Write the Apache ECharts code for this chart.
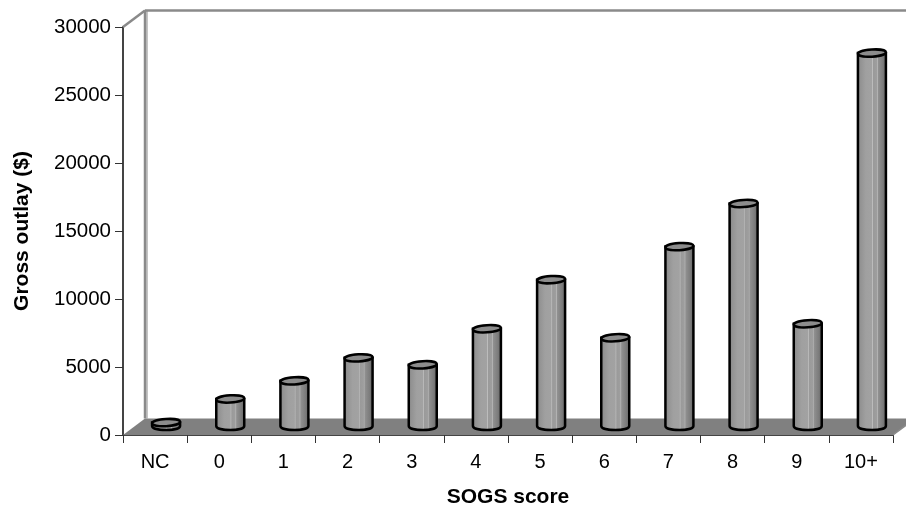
<!DOCTYPE html>
<html><head><meta charset="utf-8">
<style>html,body{margin:0;padding:0;background:#fff}#c{width:906px;height:510px}</style>
<script src="https://cdn.jsdelivr.net/npm/echarts@6/dist/echarts.min.js"></script>
</head><body><div id="c"></div>
<script>
const categories = ['NC','0','1','2','3','4','5','6','7','8','9','10+'];
const outlay = [250,1990,3320,5010,4500,7150,10760,6490,13190,16360,7520,27420];
const yTicks = {min:0,max:30000,interval:5000};

const DX = 22, DY = 16.5;
const BAR_SHIFT = 11, BASE_LIFT = 9, BAR_W = 28, RY = 3.6;

const barFill = new echarts.graphic.LinearGradient(0,0,1,0,[
  {offset:0,color:'#7a7a7a'},{offset:0.12,color:'#929292'},{offset:0.3,color:'#a0a0a0'},
  {offset:0.5,color:'#a2a2a2'},{offset:0.52,color:'#bdbdbd'},{offset:0.55,color:'#9a9a9a'},
  {offset:0.66,color:'#9e9e9e'},{offset:0.68,color:'#b5b5b5'},{offset:0.71,color:'#909090'},
  {offset:0.86,color:'#7c7c7c'},{offset:1,color:'#5c5c5c'}]);

function renderFrame(params){
  const r = params.coordSys;
  const L=r.x, T=r.y, R=r.x+r.width, B=r.y+r.height;
  const line=(x1,y1,x2,y2,w)=>({type:'line',shape:{x1,y1,x2,y2},style:{stroke:'#8a8a8a',lineWidth:w||2}});
  return {type:'group',silent:true,children:[
    {type:'polygon',shape:{points:[[L,B],[L+DX,B-DY],[R+DX,B-DY],[R,B]]},style:{fill:'#808080'}},
    line(L+DX,B-DY,L+DX,T-DY,2.5),
    line(L,T,L+DX,T-DY,2.5),
    line(L+DX,T-DY,R+DX,T-DY,2.5),
    line(L+DX+2,T-DY,L+DX+2,B-DY,1),
    line(R,B,R+DX,B-DY,1.5)
  ]};
}
function renderBar(params,api){
  const base = api.coord([api.value(0),0]);
  const top = api.coord([api.value(0),api.value(1)]);
  const cx = base[0]+BAR_SHIFT, yb = base[1]-BASE_LIFT, yt = top[1]-BASE_LIFT;
  const hw = BAR_W/2;
  const body = {type:'path',shape:{pathData:
    `M${cx-hw} ${yt} L${cx-hw} ${yb} C${cx-hw} ${yb+RY*1.5} ${cx+hw} ${yb+RY*1.5} ${cx+hw} ${yb} L${cx+hw} ${yt} Z`},
    style:{fill:barFill,stroke:'#000',lineWidth:2.5}};
  const cap = {type:'ellipse',shape:{cx,cy:yt,rx:hw,ry:RY},originX:cx,originY:yt,rotation:0.06,
    style:{fill:'#8c8c8c',stroke:'#000',lineWidth:2.5}};
  return {type:'group',children:[body,cap]};
}

const chart = echarts.init(document.getElementById('c'),null,{renderer:'canvas'});
chart.setOption({
  animation:false,
  backgroundColor:'#fff',
  textStyle:{fontFamily:'"Liberation Sans",Arial,sans-serif'},
  grid:{left:123,right:13,top:27,bottom:75,containLabel:false,outerBoundsMode:'none'},
  xAxis:{type:'category',data:categories,boundaryGap:true,
    name:'SOGS score',nameLocation:'middle',nameGap:51.5,
    nameTextStyle:{fontSize:21,fontWeight:'bold',color:'#000',fontFamily:'"Liberation Sans"'},
    axisLine:{lineStyle:{color:'#444',width:2}},
    axisTick:{show:true,length:8,alignWithLabel:false,lineStyle:{color:'#333',width:1}},
    axisLabel:{fontSize:20,color:'#000',margin:17,interval:0,fontFamily:'"Liberation Sans"'},
    splitLine:{show:false}},
  yAxis:{type:'value',min:yTicks.min,max:yTicks.max,interval:yTicks.interval,
    name:'Gross outlay ($)',nameLocation:'middle',nameGap:90.5,nameRotate:90,
    nameTextStyle:{fontSize:21,fontWeight:'bold',color:'#000',fontFamily:'"Liberation Sans"'},
    axisLine:{show:true,lineStyle:{color:'#444',width:2}},
    axisTick:{show:true,length:8,lineStyle:{color:'#333',width:1}},
    axisLabel:{fontSize:20.5,color:'#000',margin:12,formatter:v=>String(v),fontFamily:'"Liberation Sans"'},
    splitLine:{show:false}},
  series:[
    {type:'custom',silent:true,z:1,clip:false,renderItem:renderFrame,data:[[0,0]],encode:{x:0,y:1}},
    {type:'custom',z:3,clip:false,renderItem:renderBar,
      data:outlay.map((v,i)=>[i,v]),encode:{x:0,y:1}}
  ]
});
</script></body></html>
